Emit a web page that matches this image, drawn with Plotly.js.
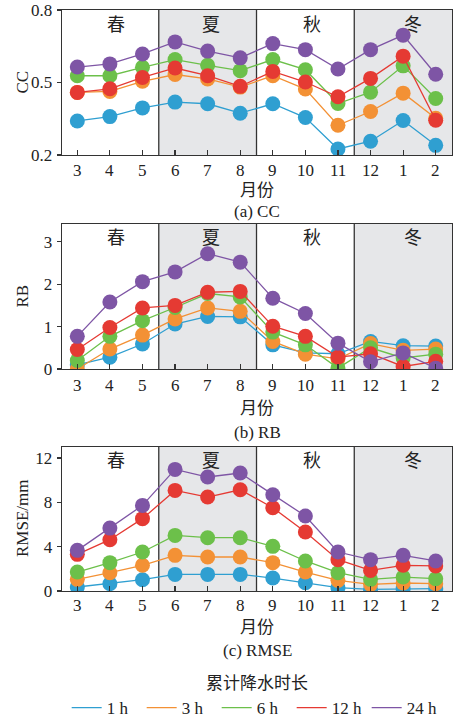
<!DOCTYPE html>
<html>
<head>
<meta charset="utf-8">
<script src="https://cdn.plot.ly/plotly-3.0.1.min.js"></script>
<style>html,body{margin:0;padding:0;background:#fff}#chart{width:454px;height:717px}</style>
</head>
<body>
<div id="chart"></div>
<script>
const months = ['3','4','5','6','7','8','9','10','11','12','1','2'];
const seasons = ['春','夏','秋','冬'];
const seriesNames = ['1 h','3 h','6 h','12 h','24 h'];
const seriesColors = ['#2f9fd1','#f39135','#6cc04a','#e53a33','#7e55a5'];

// (a) CC
const cc_1h  = [0.341,0.359,0.395,0.419,0.412,0.373,0.412,0.355,0.225,0.257,0.343,0.240];
const cc_3h  = [0.459,0.463,0.505,0.533,0.515,0.481,0.528,0.473,0.323,0.380,0.456,0.352];
const cc_6h  = [0.528,0.528,0.563,0.595,0.571,0.549,0.595,0.553,0.413,0.460,0.569,0.434];
const cc_12h = [0.459,0.474,0.521,0.560,0.528,0.484,0.546,0.502,0.441,0.517,0.609,0.344];
const cc_24h = [0.564,0.577,0.618,0.668,0.630,0.602,0.661,0.636,0.556,0.636,0.696,0.534];

// (b) RB
const rb_1h  = [0.10,0.28,0.59,1.06,1.24,1.23,0.57,0.38,0.36,0.65,0.55,0.54];
const rb_3h  = [0.00,0.47,0.80,1.18,1.44,1.36,0.65,0.35,0.24,0.60,0.44,0.47];
const rb_6h  = [0.20,0.77,1.14,1.45,1.78,1.70,0.87,0.57,0.02,0.50,0.26,0.35];
const rb_12h = [0.46,0.98,1.44,1.50,1.81,1.83,1.01,0.77,0.28,0.36,0.06,0.18];
const rb_24h = [0.77,1.58,2.06,2.29,2.72,2.52,1.67,1.31,0.61,0.17,0.38,0.02];

// (c) RMSE (mm)
const rmse_1h  = [0.36,0.66,1.02,1.50,1.50,1.50,1.17,0.75,0.30,0.15,0.21,0.21];
const rmse_3h  = [1.05,1.65,2.32,3.22,3.07,3.07,2.56,1.71,0.96,0.60,0.72,0.66];
const rmse_6h  = [1.71,2.56,3.52,5.02,4.81,4.81,4.03,2.71,1.65,1.05,1.26,1.11];
const rmse_12h = [3.31,4.63,6.53,9.08,8.48,9.14,7.52,5.32,2.83,1.86,2.32,2.26];
const rmse_24h = [3.67,5.68,7.73,10.98,10.29,10.65,8.69,6.77,3.52,2.83,3.22,2.71];

const panels = [
  {series:[cc_1h,cc_3h,cc_6h,cc_12h,cc_24h], ytitle:'CC', caption:'(a) CC', range:[0.2,0.8], tickvals:[0.2,0.5,0.8], ticktext:['0.2','0.5','0.8'], top:10, bottom:155, tickY:170, xlabY:190, capY:211},
  {series:[rb_1h,rb_3h,rb_6h,rb_12h,rb_24h], ytitle:'RB', caption:'(b) RB', range:[0,3.42], tickvals:[0,1,2,3], ticktext:['0','1','2','3'], top:224, bottom:369, tickY:385, xlabY:408, capY:432},
  {series:[rmse_1h,rmse_3h,rmse_6h,rmse_12h,rmse_24h], ytitle:'RMSE/mm', caption:'(c) RMSE', range:[0,13], tickvals:[0,4,8,12], ticktext:['0','4','8','12'], top:447, bottom:591, tickY:605, xlabY:627, capY:650}
];

const H = 717, W = 454, L = 62, R = 2;
const FONT = '"Liberation Serif", "Times New Roman", "Noto Sans CJK SC", serif';
const seasonX = [1.2, 4.1, 7.2, 10.3];

const traces = [];
const shapes = [];
const annotations = [];
const layout = {
  width: W, height: H,
  margin: {l: L, r: R, t: 0, b: 0, autoexpand: false},
  paper_bgcolor: '#fff', plot_bgcolor: '#fff',
  font: {family: FONT, size: 17, color: '#222'},
  showlegend: true,
  legend: {orientation: 'h', x: 0.012, xanchor: 'left', y: -0.0126, yanchor: 'bottom',
           font: {family: FONT, size: 17, color: '#222'}, entrywidth: 30, entrywidthmode: 'pixels',
           tracegroupgap: 0, itemwidth: 30, bgcolor: 'rgba(0,0,0,0)'}
};

panels.forEach((p, i) => {
  const xa = i === 0 ? 'x' : 'x' + (i + 1);
  const ya = i === 0 ? 'y' : 'y' + (i + 1);
  const xk = i === 0 ? 'xaxis' : 'xaxis' + (i + 1);
  const yk = i === 0 ? 'yaxis' : 'yaxis' + (i + 1);
  const dom = [1 - p.bottom / H, 1 - p.top / H];
  layout[xk] = {
    domain: [0, 1], anchor: ya, type: 'category', categoryorder: 'array', categoryarray: months,
    range: [-0.47, 11.5], showline: true, mirror: true, linecolor: '#333', linewidth: 1.3,
    ticks: 'inside', ticklen: 5, tickcolor: '#333', tickwidth: 1.2, showgrid: false, zeroline: false,
    showticklabels: false, fixedrange: true
  };
  layout[yk] = {
    domain: dom, anchor: xa, range: p.range, tickvals: p.tickvals, ticktext: p.ticktext,
    showline: true, mirror: true, linecolor: '#333', linewidth: 1.3,
    ticks: 'outside', ticklen: 4, tickcolor: '#333', tickwidth: 1.2, showgrid: false, zeroline: false,
    tickfont: {family: FONT, size: 17, color: '#222'}, ticklabelstandoff: 1, fixedrange: true
  };
  // season shading (summer, winter) & separators
  [[2.5, 5.5], [8.5, 11.5]].forEach(s => {
    shapes.push({type:'rect', xref:xa, yref:ya + ' domain', x0:s[0], x1:s[1], y0:0, y1:1, fillcolor:'#e6e7e9', line:{width:0}, layer:'below'});
  });
  [2.5, 5.5, 8.5].forEach(xv => {
    shapes.push({type:'line', xref:xa, yref:ya + ' domain', x0:xv, x1:xv, y0:0, y1:1, line:{color:'#333', width:1.3}, layer:'below'});
  });
  seasons.forEach((s, k) => {
    annotations.push({text: s, xref: xa, yref: ya + ' domain', x: seasonX[k], y: 0.9, showarrow: false,
      font: {family: FONT, size: 18, color: '#222'}, xanchor: 'center', yanchor: 'middle'});
  });
  // x tick labels
  months.forEach((m, k) => {
    annotations.push({text: m, xref: xa, yref: 'paper', x: k, y: 1 - p.tickY / H, showarrow: false,
      font: {family: FONT, size: 17, color: '#222'}, xanchor: 'center', yanchor: 'middle'});
  });
  annotations.push({text: '月份', xref: 'paper', yref: 'paper', x: 0.5, y: 1 - p.xlabY / H, showarrow: false,
    font: {family: FONT, size: 17, color: '#222'}, xanchor: 'center', yanchor: 'middle'});
  annotations.push({text: p.caption, xref: 'paper', yref: 'paper', x: 0.5, y: 1 - p.capY / H, showarrow: false,
    font: {family: FONT, size: 17, color: '#222'}, xanchor: 'center', yanchor: 'middle'});
  annotations.push({text: p.ytitle, xref: 'paper', yref: 'paper', x: (22 - L) / (W - L - R), y: (dom[0] + dom[1]) / 2,
    textangle: -90, showarrow: false, font: {family: FONT, size: 17, color: '#222'}, xanchor: 'center', yanchor: 'middle'});

  p.series.forEach((vals, s) => {
    traces.push({x: months, y: vals, xaxis: xa, yaxis: ya, mode: 'lines', name: seriesNames[s],
      line: {color: seriesColors[s], width: 1.3}, legendgroup: seriesNames[s], showlegend: i === 0, hoverinfo: 'skip'});
    traces.push({x: months, y: vals, xaxis: xa, yaxis: ya, mode: 'markers', name: seriesNames[s],
      marker: {color: seriesColors[s], size: 15, line: {width: 0}}, legendgroup: seriesNames[s], showlegend: false});
  });
});

annotations.push({text: '累计降水时长', xref: 'paper', yref: 'paper', x: 0.5, y: 1 - 683 / H, showarrow: false,
  font: {family: FONT, size: 17, color: '#222'}, xanchor: 'center', yanchor: 'middle'});

layout.shapes = shapes;
layout.annotations = annotations;

Plotly.newPlot('chart', traces, layout, {displayModeBar: false, staticPlot: true});
</script>
</body>
</html>
